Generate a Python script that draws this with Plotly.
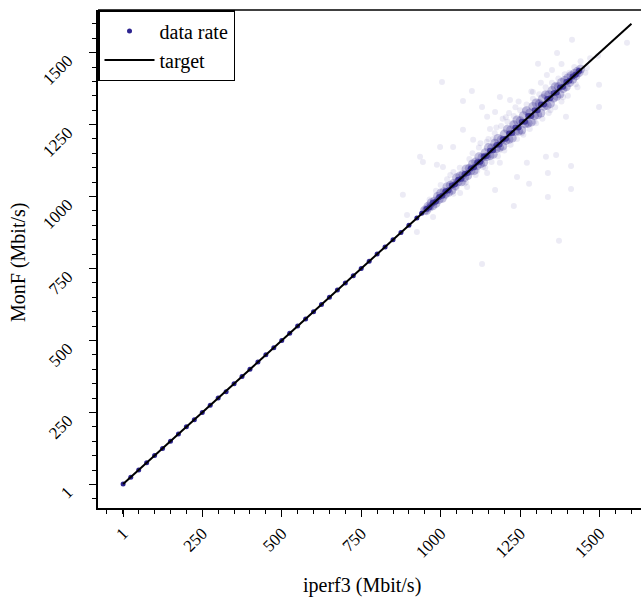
import plotly.graph_objects as go

# ---- data ----
# low-rate measurements (discrete steps, nearly exact)
iperf_low = [1, 25, 50, 75, 100, 125, 150, 175, 200, 225, 250, 275, 300, 325, 350, 375,
             400, 425, 450, 475, 500, 525, 550, 575, 600, 625, 650, 675, 700, 725, 750,
             775, 800, 825, 850, 875, 900, 925, 940]
monf_low = [1, 25, 50, 75, 100, 125, 150, 175, 200, 225, 250, 275, 300, 322, 350, 375,
            400, 425, 450, 475, 500, 525, 550, 575, 600, 625, 650, 675, 700, 725, 750,
            775, 800, 825, 850, 875, 900, 925, 942]

# dense core around the target line
iperf_core = [955, 965, 975, 985, 995, 1005, 1015, 1025, 1035, 1045, 1055, 1065, 1075, 1085,
              1095, 1105, 1115, 1125, 1135, 1145, 1155, 1165, 1175, 1185, 1195, 1205, 1215,
              1225, 1235, 1245, 1255, 1265, 1275, 1285, 1295, 1305, 1315, 1325, 1335, 1345,
              1355, 1365, 1375, 1385, 1395, 1405, 1415, 1425, 1435]
monf_core = [957, 963, 978, 983, 998, 1003, 1018, 1022, 1038, 1043, 1058, 1062, 1078, 1082,
             1098, 1102, 1119, 1121, 1139, 1141, 1159, 1161, 1179, 1181, 1199, 1201, 1219,
             1221, 1240, 1240, 1260, 1260, 1280, 1280, 1300, 1300, 1320, 1320, 1339, 1341,
             1359, 1361, 1379, 1381, 1398, 1402, 1417, 1423, 1436]

# band of measurements
iperf_band = [950, 955, 960, 965, 970, 975, 980, 985, 990, 995, 1000, 1005, 1010, 1015, 1020,
              1025, 1030, 1035, 1040, 1045, 1050, 1055, 1060, 1065, 1070, 1075, 1080, 1085,
              1090, 1095, 1100, 1105, 1110, 1115, 1120, 1125, 1130, 1135, 1140, 1145, 1150,
              1155, 1160, 1165, 1170, 1175, 1180, 1185, 1190, 1195, 1200, 1205, 1210, 1215,
              1220, 1225, 1230, 1235, 1240, 1245, 1250, 1255, 1260, 1265, 1270, 1275, 1280,
              1285, 1290, 1295, 1300, 1305, 1310, 1315, 1320, 1325, 1330, 1335, 1340, 1345,
              1350, 1355, 1360, 1365, 1370, 1375, 1380, 1385, 1390, 1395, 1400, 1405, 1410,
              1415, 1420, 1425, 1430, 1435, 1440]
monf_band = [953, 951, 966, 963, 978, 968, 984, 976, 1000, 990, 1012, 994, 1017, 1009, 1034,
             1015, 1039, 1022, 1045, 1037, 1065, 1051, 1071, 1051, 1076, 1066, 1096, 1073,
             1098, 1090, 1113, 1090, 1120, 1108, 1138, 1114, 1136, 1119, 1152, 1139, 1170,
             1142, 1169, 1147, 1185, 1167, 1202, 1171, 1197, 1175, 1217, 1195, 1234, 1199,
             1231, 1203, 1249, 1226, 1266, 1227, 1263, 1231, 1281, 1253, 1298, 1255, 1290,
             1259, 1313, 1281, 1325, 1284, 1322, 1290, 1340, 1314, 1354, 1316, 1354, 1323,
             1368, 1342, 1381, 1348, 1381, 1356, 1396, 1375, 1403, 1381, 1412, 1396, 1420,
             1407, 1427, 1419, 1435, 1431, 1443]

# faint scattered measurements
iperf_halo = [1004, 1098, 1070, 1130, 935, 881, 1230, 1372, 1130, 1278, 1337, 1410, 1498, 1586,
              1498, 1413, 1366, 1306, 1460, 1495, 1394, 1331, 1363, 1410, 1171, 1337, 944, 988,
              1007, 1039, 998, 1102, 1070, 1146, 1186, 1218, 1290, 1334, 1171, 1271, 1240, 1186,
              1133, 1146, 1083, 1061, 976, 944, 925, 894,
              1000, 1020, 1040, 1060, 1080, 1100, 1110, 1120, 1140, 1150, 1160, 1170, 1180,
              1190, 1200, 1210, 1220, 1230, 1240, 1250, 1260, 1270, 1280, 1290, 1300, 1310,
              1320, 1330, 1340, 1350, 1360, 1370, 1380, 1390, 1400, 1420, 1430, 1040, 1090,
              1125, 1175, 1205, 1235, 1265, 1195, 1155, 1215, 1245, 1285, 1315, 1350, 1380,
              1015, 1050, 1075, 1115, 1185, 1255, 1295, 1345, 1385, 1425, 965, 985, 1030, 1145,
              1165, 1225, 1275, 1305, 1325, 1365, 1405, 1440, 1455, 1470]
monf_halo = [1398, 1367, 1332, 1311, 1138, 1006, 967, 846, 766, 1044, 998, 1026, 1311, 1534,
             1388, 1545, 1499, 1461, 1447, 1489, 1277, 1138, 1144, 1106, 1023, 1082, 1120, 1110,
             1103, 1172, 1172, 1197, 1232, 1277, 1346, 1335, 1363, 1422, 1294, 1117, 1068, 1117,
             1103, 1082, 1033, 1012, 929, 953, 877, 936,
             1040, 1060, 1010, 1100, 1050, 1150, 1075, 1170, 1100, 1200, 1120, 1220, 1140,
             1245, 1160, 1260, 1180, 1280, 1200, 1300, 1215, 1320, 1235, 1340, 1255, 1355,
             1270, 1380, 1290, 1395, 1310, 1410, 1330, 1425, 1350, 1450, 1380, 1085, 1130,
             1185, 1240, 1275, 1310, 1300, 1270, 1235, 1290, 1330, 1365, 1395, 1440, 1460,
             1000, 1030, 1045, 1090, 1160, 1220, 1260, 1300, 1345, 1390, 990, 1020, 1075, 1190,
             1200, 1255, 1250, 1330, 1350, 1390, 1430, 1470, 1430, 1480]

target_x = [1, 1600]
target_y = [1, 1600]

tick_vals = [1, 250, 500, 750, 1000, 1250, 1500]
tick_text = ["1", "250", "500", "750", "1000", "1250", "1500"]

COLOR = "#2d2490"
FONT = "Liberation Serif"

fig = go.Figure()
fig.add_trace(go.Scatter(x=iperf_halo, y=monf_halo, mode="markers", showlegend=False,
                         marker=dict(color=COLOR, size=6, opacity=0.09, line=dict(width=0))))
fig.add_trace(go.Scatter(x=iperf_band, y=monf_band, mode="markers", showlegend=False,
                         marker=dict(color=COLOR, size=9, opacity=0.28, line=dict(width=0))))
fig.add_trace(go.Scatter(x=iperf_core, y=monf_core, mode="markers", showlegend=False,
                         marker=dict(color=COLOR, size=6, opacity=0.7, line=dict(width=0))))
fig.add_trace(go.Scatter(x=iperf_low, y=monf_low, mode="markers", name="data rate",
                         marker=dict(color=COLOR, size=5, line=dict(width=0))))
fig.add_trace(go.Scatter(x=target_x, y=target_y, mode="lines", name="target",
                         line=dict(color="black", width=2)))

axis_common = dict(
    showline=True, linecolor="black", linewidth=1.5,
    ticks="outside", ticklen=7, tickwidth=1.3, tickcolor="black",
    tickvals=tick_vals, ticktext=tick_text, tickangle=-45,
    tickfont=dict(family=FONT, size=17, color="black"),
    showgrid=False, zeroline=False, automargin=False,
    minor=dict(ticks="outside", ticklen=4, tickwidth=1.1, tickcolor="black",
               dtick=50, tick0=0, showgrid=False),
)

fig.update_layout(
    width=641, height=601,
    margin=dict(l=98, r=0, t=10, b=93),
    plot_bgcolor="white", paper_bgcolor="white",
    font=dict(family=FONT, size=17, color="black"),
    xaxis=dict(range=[-78, 1630], mirror=False, **axis_common),
    yaxis=dict(range=[-82, 1648], mirror=False, ticklabelstandoff=18, ticklabelshift=6,
               **axis_common),
    legend=dict(x=0, y=1, xanchor="left", yanchor="top", bgcolor="white",
                bordercolor="black", borderwidth=1.5,
                font=dict(family=FONT, size=20, color="black"),
                itemwidth=50),
    shapes=[dict(type="line", xref="paper", yref="paper", x0=0, x1=1, y0=1, y1=1,
                 line=dict(color="black", width=1.5))],
    annotations=[
        dict(text="iperf3 (Mbit/s)", xref="paper", yref="paper", x=(362 - 98) / 543,
             y=-(585 - 508) / 498, xanchor="center", yanchor="middle", showarrow=False,
             font=dict(family=FONT, size=20, color="black")),
        dict(text="MonF (Mbit/s)", xref="paper", yref="paper", x=-(98 - 18) / 543,
             y=(508 - 263) / 498, xanchor="center", yanchor="middle", textangle=-90,
             showarrow=False, font=dict(family=FONT, size=20, color="black")),
    ],
)

fig.write_html("out.html", config={"displayModeBar": False},
               post_script="document.body.style.margin='0';document.body.style.overflow='hidden';")
